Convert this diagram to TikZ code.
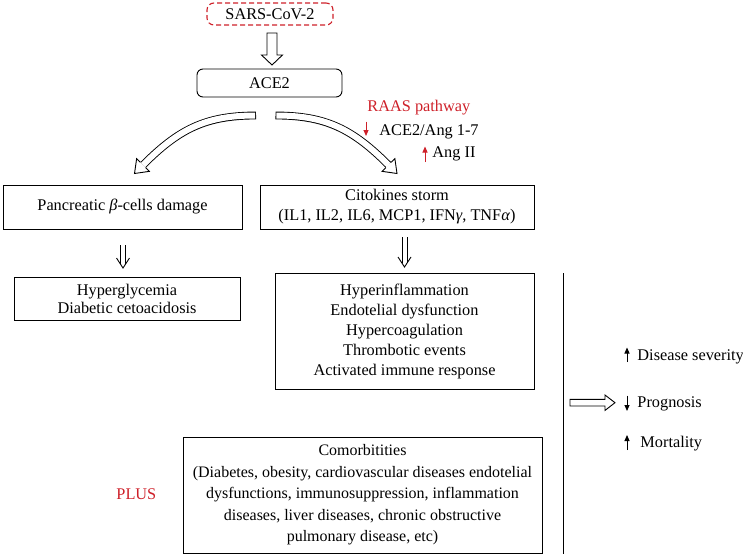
\documentclass[tikz,border=0pt]{standalone}
\usepackage{fontspec}
\setmainfont{Liberation Serif}
\usetikzlibrary{arrows.meta,calc}
\definecolor{rred}{RGB}{206,32,41}
\begin{document}
\begin{tikzpicture}[x=1pt,y=-1pt,line width=0.9pt,
  every node/.style={font=\fontsize{16.3}{20}\selectfont, inner sep=0pt},
  box/.style={draw, align=center},
  sarsbox/.style={draw=rred, line width=1.1pt, dash pattern=on 5pt off 3pt, rounded corners=7pt},
  acebox/.style={draw, rounded corners=6pt},
  lbl/.style={anchor=base west},
  smallarr/.style={line width=1pt, -{Triangle[length=6pt,width=5pt]}},
  pics/dbldown/.style={code={
    \draw (-2.5,0) -- (-2.5,{#1-3.85});
    \draw (2.5,0) -- (2.5,{#1-3.85});
    \draw[line join=miter] (-6.5,{#1-10}) -- (0,#1) -- (6.5,{#1-10});
  }}]
\useasboundingbox (0,0) rectangle (743,554);

% nodes
\node[sarsbox, minimum width=126pt, minimum height=22pt] (sars) at (270,14) {SARS-CoV-2};
\node[acebox, minimum width=145pt, minimum height=28pt] (ace) at (269.5,83) {ACE2};
\node[box, minimum width=239pt, minimum height=44pt] (panc) at (122.5,207) {Pancreatic \textit{β}-cells damage};
\node[box, minimum width=274pt, minimum height=44pt] (cito) at (397,207) {Citokines storm\\(IL1, IL2, IL6, MCP1, IFN\textit{γ}, TNF\textit{α})};
\node[box, minimum width=226pt, minimum height=43pt, font=\fontsize{16.3}{18}\selectfont] (hyper) at (127,298.5) {Hyperglycemia\\Diabetic cetoacidosis};
\node[box, minimum width=259pt, minimum height=116pt] (infl) at (404.5,331) {Hyperinflammation\\Endotelial dysfunction\\Hypercoagulation\\Thrombotic events\\Activated immune response};
\node[box, minimum width=359pt, minimum height=116pt, font=\fontsize{16}{21.5}\selectfont] (como) at (362.5,495) {Comorbitities\\(Diabetes, obesity, cardiovascular diseases endotelial\\dysfunctions, immunosuppression, inflammation\\diseases, liver diseases, chronic obstructive\\pulmonary disease, etc)};

\node[lbl, text=rred] (raas) at (367,111) {RAAS pathway};
\node[lbl] (ang17) at (379,135) {ACE2/Ang 1-7};
\node[lbl] (ang2) at (432,157) {Ang II};
\node[lbl] (sev) at (637,360) {Disease severity};
\node[lbl] (prog) at (637,407) {Prognosis};
\node[lbl] (mort) at (640,447) {Mortality};
\node[lbl, text=rred] (plus) at (116,499) {PLUS};

% hollow straight arrow SARS -> ACE2
\draw[line join=miter] (267,33) -- (267,55) -- (261.5,55) -- (272,65) -- (282.5,55) -- (277,55) -- (277,33) -- cycle;

% curved hollow arrow left
\draw[line width=7.8pt, line cap=butt] (256,115.5) .. controls (205,115.5) and (178.4,129.6) .. (143,165);
\draw[line width=6pt, white, line cap=butt, shorten <=0.9pt] (256,115.5) .. controls (205,115.5) and (178.4,129.6) .. (143,165);
\fill[white] (149.36,171.36) -- (134.51,173.49) -- (136.64,158.64) -- cycle;
\draw[line join=miter] (145.69,167.69) -- (149.36,171.36) -- (134.51,173.49) -- (136.64,158.64) -- (140.31,162.31);

% curved hollow arrow right
\draw[line width=7.8pt, line cap=butt] (275.5,115.5) .. controls (326.5,115.5) and (353.1,129.6) .. (388.5,165);
\draw[line width=6pt, white, line cap=butt, shorten <=0.9pt] (275.5,115.5) .. controls (326.5,115.5) and (353.1,129.6) .. (388.5,165);
\fill[white] (382.14,171.36) -- (397,173.49) -- (394.86,158.64) -- cycle;
\draw[line join=miter] (385.81,167.69) -- (382.14,171.36) -- (397,173.49) -- (394.86,158.64) -- (391.19,162.31);

% RAAS small arrows
\draw[rred, smallarr] (366,121.5) -- (366,136);
\draw[rred, smallarr] (425,162) -- (425,146.5);

% double arrows
\pic at (123,245) {dbldown=23};
\pic at (404.5,237) {dbldown=30};

% divider
\draw (563,273) -- (563,554);

% prognosis hollow arrow
\draw[line join=miter] (570,399.4) -- (605,399.4) -- (605,395) -- (615,402.7) -- (605,410.4) -- (605,406) -- (570,406) -- cycle;

% black small arrows
\draw[smallarr] (627,362) -- (627,347.5);
\draw[smallarr] (627,395.5) -- (627,411);
\draw[smallarr] (627,450) -- (627,435);
\end{tikzpicture}
\end{document}
